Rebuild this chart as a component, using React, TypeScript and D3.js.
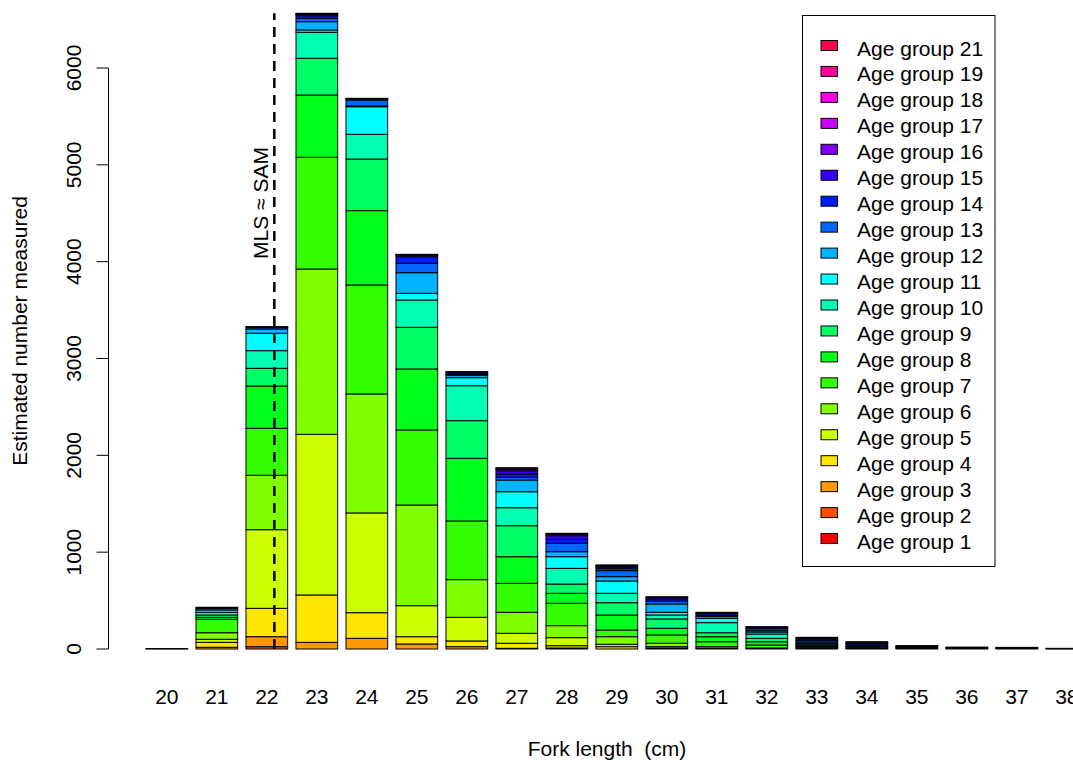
import React from "react";
import * as d3 from "d3";

// Fork length classes (cm)
const lengths = [20, 21, 22, 23, 24, 25, 26, 27, 28, 29, 30, 31, 32, 33, 34, 35, 36, 37, 38];
// Age groups present in the data
const ageGroups = ["1", "2", "3", "4", "5", "6", "7", "8", "9", "10", "11", "12", "13", "14", "15", "16", "17", "18", "19", "21"];

// Estimated numbers measured per fork length, for each age group
const age1 = [0, 0, 0, 0, 0, 0, 0, 0, 0, 0, 0, 0, 0, 0, 0, 0, 0, 0, 0];
const age2 = [0, 0, 24, 0, 0, 0, 0, 0, 0, 0, 0, 0, 0, 0, 0, 0, 0, 0, 0];
const age3 = [0, 18, 103, 69, 110, 52, 24, 7, 10, 0, 0, 0, 0, 0, 0, 0, 0, 0, 0];
const age4 = [3, 51, 293, 489, 265, 75, 59, 52, 24, 24, 10, 0, 0, 0, 0, 0, 0, 0, 0];
const age5 = [2, 31, 812, 1659, 1030, 320, 244, 103, 83, 25, 14, 8, 0, 0, 0, 0, 0, 0, 0];
const age6 = [0, 68, 562, 1707, 1229, 1040, 389, 217, 124, 78, 35, 16, 10, 0, 0, 0, 0, 0, 0];
const age7 = [0, 139, 485, 1154, 1125, 775, 606, 299, 231, 69, 86, 51, 31, 10, 0, 0, 0, 0, 0];
const age8 = [0, 20, 437, 643, 768, 630, 647, 275, 103, 155, 69, 52, 34, 12, 0, 0, 0, 0, 0];
const age9 = [0, 24, 183, 379, 533, 430, 389, 320, 96, 127, 96, 41, 35, 10, 0, 0, 0, 0, 0];
const age10 = [0, 28, 182, 269, 255, 282, 361, 186, 162, 97, 41, 104, 45, 12, 5, 0, 0, 0, 0];
const age11 = [0, 24, 179, 24, 285, 69, 83, 165, 120, 127, 28, 45, 20, 12, 8, 0, 0, 0, 0];
const age12 = [0, 14, 45, 85, 8, 213, 25, 121, 52, 45, 86, 20, 14, 15, 12, 5, 0, 0, 0];
const age13 = [0, 10, 14, 35, 62, 97, 10, 28, 87, 62, 30, 14, 20, 15, 15, 10, 0, 0, 0];
const age14 = [0, 4, 6, 27, 10, 68, 15, 34, 41, 25, 21, 15, 12, 15, 15, 10, 5, 0, 0];
const age15 = [0, 0, 4, 14, 5, 15, 8, 34, 37, 15, 15, 8, 6, 10, 10, 5, 5, 0, 0];
const age16 = [0, 0, 0, 6, 2, 7, 4, 15, 15, 10, 9, 5, 3, 10, 5, 5, 5, 5, 0];
const age17 = [0, 0, 0, 3, 0, 3, 0, 10, 10, 5, 0, 0, 0, 0, 5, 0, 5, 5, 0];
const age18 = [0, 0, 0, 2, 0, 0, 0, 6, 0, 4, 0, 0, 0, 0, 0, 0, 0, 3, 0];
const age19 = [0, 0, 0, 0, 0, 0, 0, 0, 0, 0, 0, 0, 0, 0, 0, 0, 0, 4, 3];
const age21 = [0, 0, 0, 0, 0, 0, 0, 0, 0, 0, 0, 0, 0, 0, 0, 0, 0, 0, 4];

const seriesValues = [age1, age2, age3, age4, age5, age6, age7, age8, age9, age10,
  age11, age12, age13, age14, age15, age16, age17, age18, age19, age21];

const yTicks = [0, 1000, 2000, 3000, 4000, 5000, 6000];
const mlsLength = 22.15;
const mlsLabel = "MLS \u2248 SAM";
const xTitle = "Fork length  (cm)";
const yTitle = "Estimated number measured";

const FONT = "'Liberation Sans', Arial, Helvetica, sans-serif";
const FS = 21;

export default function App() {
  const W = 1073;
  const H = 760;

  const rows = lengths.map((len, i) => {
    const r: Record<string, number> = { length: len };
    ageGroups.forEach((g, k) => (r[g] = seriesValues[k][i]));
    return r;
  });
  const stacked = d3.stack<Record<string, number>>().keys(ageGroups)(rows);
  const totals = rows.map((r) => d3.sum(ageGroups, (g) => r[g]));

  const x = d3
    .scaleBand<number>()
    .domain(lengths)
    .range([141.83, 1091.83])
    .paddingInner(1 / 6)
    .paddingOuter(1 / 12);
  const bw = x.bandwidth();
  const y = d3.scaleLinear().domain([0, 6000]).range([649, 68]);
  const xLin = d3
    .scaleLinear()
    .domain([lengths[0], lengths[lengths.length - 1]])
    .range([x(lengths[0])! + bw / 2, x(lengths[lengths.length - 1])! + bw / 2]);

  const color = (k: number) => d3.hsl((k / ageGroups.length) * 360, 1, 0.5).formatHex();

  const legendX = 802.5;
  const legendY = 15.5;
  const legendW = 192.5;
  const legendH = 551;
  const baseline0 = 55.5;
  const lineGap = 25.95;
  const legendOrder = ageGroups.map((g, k) => ({ g, k })).reverse();

  const mlsX = xLin(mlsLength);
  const maxTotal = d3.max(totals)!;

  return (
    <svg
      width={W}
      height={H}
      style={{ position: "absolute", left: 0, top: 0, background: "#fff" }}
      fontFamily={FONT}
    >
      <rect x={0} y={0} width={W} height={H} fill="#fff" />
      {/* bars */}
      {stacked.map((layer, k) => (
        <g key={layer.key} fill={color(k)} stroke="#000" strokeWidth={1}>
          {layer.map((d, i) => (
            <rect
              key={i}
              x={x(lengths[i])!}
              y={y(d[1])}
              width={bw}
              height={Math.max(0, y(d[0]) - y(d[1]))}
            />
          ))}
        </g>
      ))}

      {/* MLS line */}
      <line
        x1={mlsX}
        x2={mlsX}
        y1={y(0)}
        y2={y(maxTotal)}
        stroke="#000"
        strokeWidth={2.5}
        strokeDasharray="10,7"
      />
      <text
        transform={`translate(${mlsX - 6.5},${203}) rotate(-90)`}
        textAnchor="middle"
        fontSize={FS}
        fill="#000"
      >
        {mlsLabel}
      </text>

      {/* y axis */}
      <line x1={108.5} x2={108.5} y1={y(0)} y2={y(6000)} stroke="#000" strokeWidth={1} />
      {yTicks.map((t) => (
        <g key={t}>
          <line x1={96.5} x2={108.5} y1={y(t)} y2={y(t)} stroke="#000" strokeWidth={1} />
          <text
            transform={`translate(81,${y(t)}) rotate(-90)`}
            textAnchor="middle"
            fontSize={FS}
            fill="#000"
          >
            {t}
          </text>
        </g>
      ))}
      <text
        transform={`translate(27,331) rotate(-90)`}
        textAnchor="middle"
        fontSize={FS}
        fill="#000"
      >
        {yTitle}
      </text>

      {/* x labels */}
      {lengths.map((l) => (
        <text key={l} x={x(l)! + bw / 2} y={704} textAnchor="middle" fontSize={FS} fill="#000">
          {l}
        </text>
      ))}
      <text x={607} y={756} textAnchor="middle" fontSize={FS} fill="#000" style={{ whiteSpace: "pre" }}>
        {xTitle}
      </text>

      {/* legend */}
      <rect x={legendX} y={legendY} width={legendW} height={legendH} fill="#fff" stroke="#000" strokeWidth={1} />
      {legendOrder.map(({ g, k }, i) => (
        <g key={g}>
          <rect
            x={821}
            y={baseline0 + i * lineGap - 15}
            width={16.5}
            height={10}
            fill={color(k)}
            stroke="#000"
            strokeWidth={1}
          />
          <text x={857} y={baseline0 + i * lineGap} fontSize={FS} fill="#000">
            {`Age group ${g}`}
          </text>
        </g>
      ))}
    </svg>
  );
}
